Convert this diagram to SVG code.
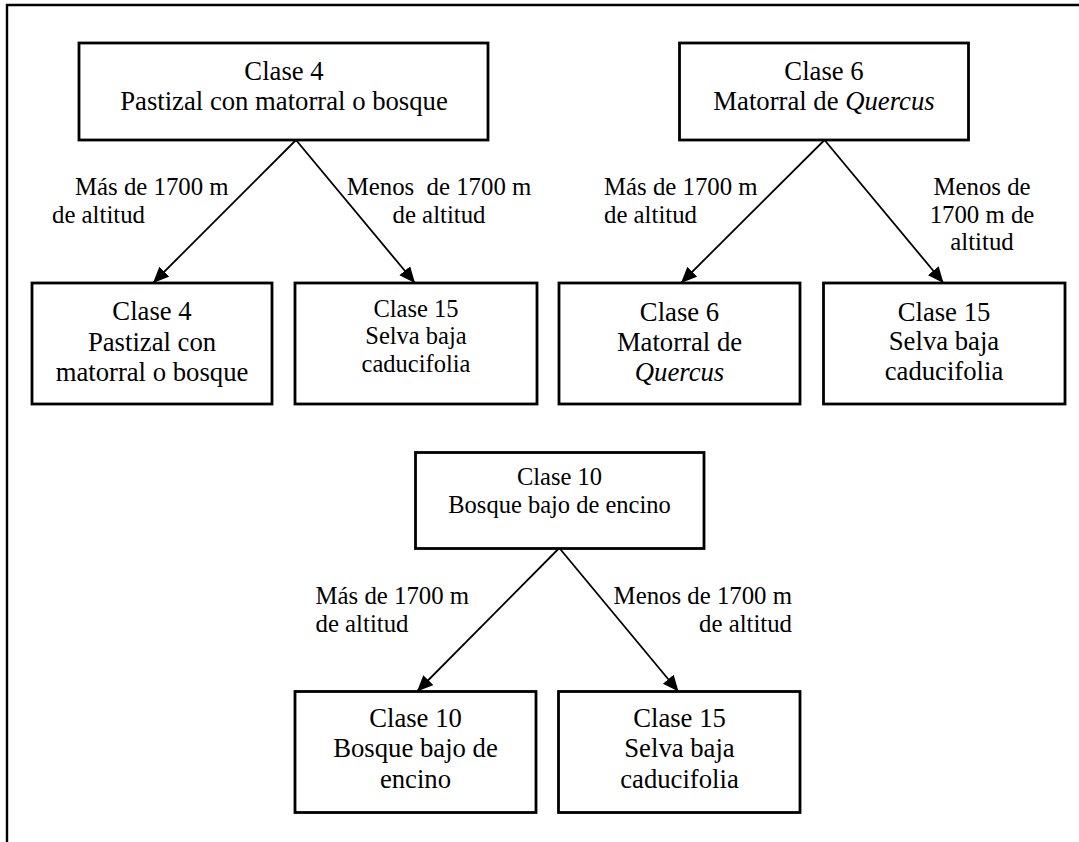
<svg xmlns="http://www.w3.org/2000/svg" width="1079" height="842" viewBox="0 0 1079 842">
<style>
  .box { fill: #fff; stroke: #000; stroke-width: 2.8; }
  .t26 { font-family: "Liberation Serif", "Times New Roman", serif; font-size: 26.7px; fill: #000; text-anchor: middle; }
  .t24 { font-family: "Liberation Serif", "Times New Roman", serif; font-size: 24.5px; fill: #000; text-anchor: middle; }
  .lbl { font-family: "Liberation Serif", "Times New Roman", serif; font-size: 24.8px; fill: #000; }
  .conn { stroke: #000; stroke-width: 1.8; fill: none; marker-end: url(#arrow); }
  .frame { stroke: #000; stroke-width: 2.4; fill: none; }
</style>
<defs>
  <marker id="arrow" markerUnits="userSpaceOnUse" markerWidth="17" markerHeight="15" refX="16" refY="7" orient="auto">
    <path d="M0,0 L16,7 L0,14 z" fill="#000"/>
  </marker>
</defs>
<rect x="0" y="0" width="1079" height="842" fill="#fff"/>
<path class="frame" d="M7,842 V5 H1079"/>

<g id="connectors">
  <line class="conn" x1="296" y1="140" x2="153" y2="283"/>
  <line class="conn" x1="296" y1="140" x2="415" y2="283"/>
  <line class="conn" x1="824.5" y1="140" x2="681" y2="283"/>
  <line class="conn" x1="824.5" y1="140" x2="943.5" y2="283"/>
  <line class="conn" x1="559.3" y1="548" x2="417" y2="691.5"/>
  <line class="conn" x1="559.3" y1="548" x2="678.5" y2="691.5"/>
</g>

<g id="labels">
  <text class="lbl"><tspan x="75" y="195">Más de 1700 m</tspan><tspan x="52" y="223">de altitud</tspan></text>
  <text class="lbl" text-anchor="middle"><tspan x="439" y="195">Menos&#160; de 1700 m</tspan><tspan x="439" y="223">de altitud</tspan></text>
  <text class="lbl"><tspan x="604" y="195">Más de 1700 m</tspan><tspan x="604" y="223">de altitud</tspan></text>
  <text class="lbl" text-anchor="middle"><tspan x="982" y="195">Menos de</tspan><tspan x="982" y="223">1700 m de</tspan><tspan x="982" y="250">altitud</tspan></text>
  <text class="lbl"><tspan x="315.5" y="604">Más de 1700 m</tspan><tspan x="315.5" y="632">de altitud</tspan></text>
  <text class="lbl" text-anchor="end"><tspan x="792" y="604">Menos de 1700 m</tspan><tspan x="792" y="632">de altitud</tspan></text>
</g>

<g id="node-clase4">
  <rect class="box" x="79" y="43" width="409" height="97"/>
  <text class="t26"><tspan x="284" y="80">Clase 4</tspan><tspan x="284" y="110">Pastizal con matorral o bosque</tspan></text>
</g>
<g id="node-clase4-alta">
  <rect class="box" x="32" y="283" width="240" height="121"/>
  <text class="t26"><tspan x="152" y="320">Clase 4</tspan><tspan x="152" y="351">Pastizal con</tspan><tspan x="152" y="381">matorral o bosque</tspan></text>
</g>
<g id="node-clase4-baja">
  <rect class="box" x="295" y="283" width="242" height="121"/>
  <text class="t24"><tspan x="416" y="317">Clase 15</tspan><tspan x="416" y="344">Selva baja</tspan><tspan x="416" y="372">caducifolia</tspan></text>
</g>

<g id="node-clase6">
  <rect class="box" x="679.5" y="43" width="289" height="97"/>
  <text class="t26"><tspan x="824" y="80">Clase 6</tspan><tspan x="824" y="110">Matorral de <tspan font-style="italic">Quercus</tspan></tspan></text>
</g>
<g id="node-clase6-alta">
  <rect class="box" x="559" y="283" width="241" height="121"/>
  <text class="t26"><tspan x="679.5" y="321">Clase 6</tspan><tspan x="679.5" y="351">Matorral de</tspan><tspan x="679.5" y="381" font-style="italic">Quercus</tspan></text>
</g>
<g id="node-clase6-baja">
  <rect class="box" x="823.5" y="283" width="241.5" height="121"/>
  <text class="t26"><tspan x="944" y="321">Clase 15</tspan><tspan x="944" y="350">Selva baja</tspan><tspan x="944" y="380">caducifolia</tspan></text>
</g>

<g id="node-clase10">
  <rect class="box" x="415.5" y="452.5" width="288.5" height="96"/>
  <text class="t24"><tspan x="559.5" y="485">Clase 10</tspan><tspan x="559.5" y="513">Bosque bajo de encino</tspan></text>
</g>
<g id="node-clase10-alta">
  <rect class="box" x="295" y="691.5" width="241" height="121"/>
  <text class="t26"><tspan x="415.5" y="727">Clase 10</tspan><tspan x="415.5" y="757">Bosque bajo de</tspan><tspan x="415.5" y="788">encino</tspan></text>
</g>
<g id="node-clase10-baja">
  <rect class="box" x="558.5" y="691.5" width="241.5" height="121"/>
  <text class="t26"><tspan x="679.5" y="727">Clase 15</tspan><tspan x="679.5" y="757">Selva baja</tspan><tspan x="679.5" y="788">caducifolia</tspan></text>
</g>
</svg>
